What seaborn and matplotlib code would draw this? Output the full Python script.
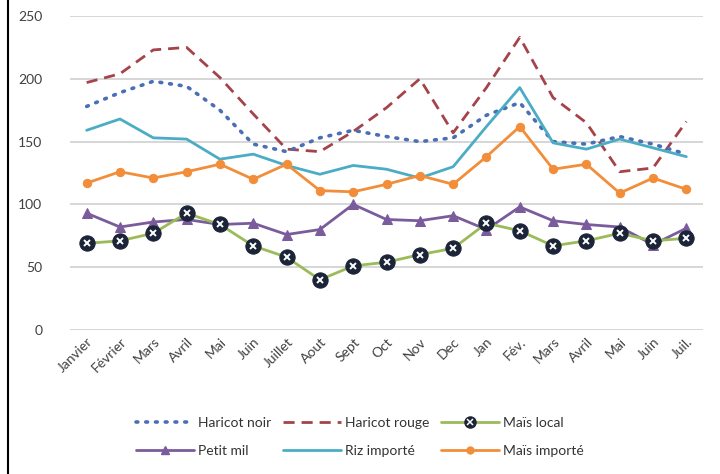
import matplotlib
matplotlib.use('Agg')
import matplotlib.pyplot as plt
from matplotlib.lines import Line2D
from matplotlib.legend_handler import HandlerTuple
import seaborn as sns
import pandas as pd

months = ['Janvier', 'Février', 'Mars', 'Avril', 'Mai', 'Juin', 'Juillet', 'Aout', 'Sept', 'Oct',
          'Nov', 'Dec', 'Jan', 'Fév.', 'Mars', 'Avril', 'Mai', 'Juin', 'Juil.']

haricot_noir = [178, 189, 198, 194, 175, 148, 142, 153, 159, 154,
                150, 153, 171, 181, 150, 148, 154, 148, 140]
haricot_rouge = [197, 204, 223, 225, 201, 172, 144, 142, 158, 177,
                 200, 157, 193, 233, 185, 165, 126, 129, 166]
mais_local = [69, 71, 77, 93, 84, 67, 58, 40, 51, 54,
              60, 65, 85, 79, 67, 71, 77, 71, 73]
petit_mil = [93, 82, 86, 88, 84, 85, 76, 80, 100, 88,
             87, 91, 80, 98, 87, 84, 82, 68, 81]
riz_importe = [159, 168, 153, 152, 136, 140, 131, 124, 131, 128,
               121, 130, 162, 193, 149, 144, 152, 145, 138]
mais_importe = [117, 126, 121, 126, 132, 120, 132, 111, 110, 116,
                123, 116, 138, 162, 128, 132, 109, 121, 112]

df = pd.DataFrame({
    'x': list(range(len(months))),
    'Haricot noir': haricot_noir,
    'Haricot rouge': haricot_rouge,
    'Maïs local': mais_local,
    'Petit mil': petit_mil,
    'Riz importé': riz_importe,
    'Maïs importé': mais_importe,
})

sns.set_style('white')
plt.rcParams['font.family'] = ['Lato', 'DejaVu Sans']

fig = plt.figure(figsize=(7.2, 4.74), dpi=100)
ax = fig.add_axes([70 / 720, 1 - 330 / 474, 633 / 720, 314 / 474])

c_noir = '#4a6fb3'
c_rouge = '#a5434a'
c_local = '#9bbb59'
c_mil = '#7a5c9c'
c_riz = '#4bacc6'
c_mimp = '#f28e3a'
c_mark = '#1c2438'

sns.lineplot(data=df, x='x', y='Haricot rouge', ax=ax, color=c_rouge, lw=2,
             linestyle=(0, (4, 2.5)))
sns.lineplot(data=df, x='x', y='Haricot noir', ax=ax, color=c_noir, lw=2.6,
             linestyle=(0, (0.5, 2.2)), dash_capstyle='round')
sns.lineplot(data=df, x='x', y='Riz importé', ax=ax, color=c_riz, lw=2)
sns.lineplot(data=df, x='x', y='Maïs importé', ax=ax, color=c_mimp, lw=2,
             marker='o', markersize=6, markeredgecolor=c_mimp)
sns.lineplot(data=df, x='x', y='Petit mil', ax=ax, color=c_mil, lw=2,
             marker='^', markersize=7, markeredgecolor=c_mil)
sns.lineplot(data=df, x='x', y='Maïs local', ax=ax, color=c_local, lw=2,
             marker='o', markersize=11, markerfacecolor=c_mark, markeredgecolor=c_mark)
ax.plot(df['x'], df['Maïs local'], linestyle='none', marker='x', markersize=5,
        markeredgecolor='white', markeredgewidth=1.4)

ax.set_xlim(-0.5, len(months) - 0.5)
ax.set_ylim(0, 250)
ax.set_yticks([0, 50, 100, 150, 200, 250])
ax.set_xticks(range(len(months)))
ax.set_xticklabels(months, rotation=45, ha='right', rotation_mode='anchor', fontsize=10)
ax.tick_params(axis='y', labelsize=10, length=0, pad=20, labelcolor='#404040')
ax.tick_params(axis='x', length=0, pad=4, labelcolor='#404040')
ax.grid(axis='y', color='#d0d0d0', lw=1.2)
ax.set_axisbelow(True)
for s in ax.spines.values():
    s.set_visible(False)
ax.set_xlabel('')
ax.set_ylabel('')

# legend
h_noir = Line2D([], [], color=c_noir, lw=2.6, linestyle=(0, (0.5, 2.2)), dash_capstyle='round')
h_rouge = Line2D([], [], color=c_rouge, lw=2, linestyle=(0, (4, 2.5)))
h_local = (Line2D([], [], color=c_local, lw=2, marker='o', markersize=8,
                  markerfacecolor=c_mark, markeredgecolor=c_mark),
           Line2D([], [], linestyle='none', marker='x', markersize=4,
                  markeredgecolor='white', markeredgewidth=1.1))
h_mil = Line2D([], [], color=c_mil, lw=2, marker='^', markersize=6)
h_riz = Line2D([], [], color=c_riz, lw=2)
h_mimp = Line2D([], [], color=c_mimp, lw=2, marker='o', markersize=5)
handles = [h_noir, h_mil, h_rouge, h_riz, h_local, h_mimp]
labels = ['Haricot noir', 'Petit mil', 'Haricot rouge', 'Riz importé', 'Maïs local', 'Maïs importé']
fig.legend(handles, labels, ncol=3, loc='center', bbox_to_anchor=(0.5, 1 - 437 / 474),
           frameon=False, fontsize=10, handlelength=4.2, columnspacing=0.8,
           handletextpad=0.3, labelspacing=1.2, labelcolor='#333333',
           handler_map={tuple: HandlerTuple(ndivide=1, pad=0)})

fig.add_artist(Line2D([8 / 720, 8 / 720], [0, 1], color='black', lw=1.5))

fig.savefig('out.png', dpi=100)
